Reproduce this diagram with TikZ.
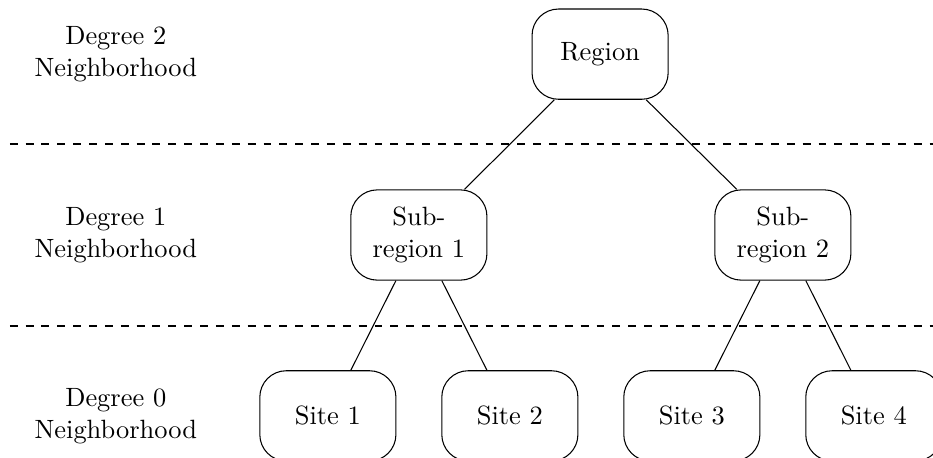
\documentclass[tikz,border=0pt]{standalone}
\usepackage{tikz}
\usetikzlibrary{positioning}

\tikzset{
  area/.style={draw, rounded corners=10pt, minimum width=1.81cm, minimum height=1.2cm, align=center, inner sep=2pt},
  degree/.style={align=center}
}

\begin{document}
\begin{tikzpicture}
\useasboundingbox (0,0) rectangle (12.407,-6.09);

% levels
\draw[dashed] (0.13,-1.915) -- (12.407,-1.915);
\draw[dashed] (0.13,-4.335) -- (12.407,-4.335);

\node[degree] (deg2) at (1.54,-0.72) {Degree 2\\Neighborhood};
\node[degree] (deg1) at (1.54,-3.125) {Degree 1\\Neighborhood};
\node[degree] (deg0) at (1.54,-5.53) {Degree 0\\Neighborhood};

% tree
\node[area] (region) at (7.98,-0.72) {Region};
\node[area] (sub1) at (5.57,-3.125) {Sub-\\region 1};
\node[area] (sub2) at (10.41,-3.125) {Sub-\\region 2};
\node[area] (site1) at (4.36,-5.53) {Site 1};
\node[area] (site2) at (6.78,-5.53) {Site 2};
\node[area] (site3) at (9.20,-5.53) {Site 3};
\node[area] (site4) at (11.62,-5.53) {Site 4};

\draw (region) -- (sub1);
\draw (region) -- (sub2);
\draw (sub1) -- (site1);
\draw (sub1) -- (site2);
\draw (sub2) -- (site3);
\draw (sub2) -- (site4);

\end{tikzpicture}
\end{document}
